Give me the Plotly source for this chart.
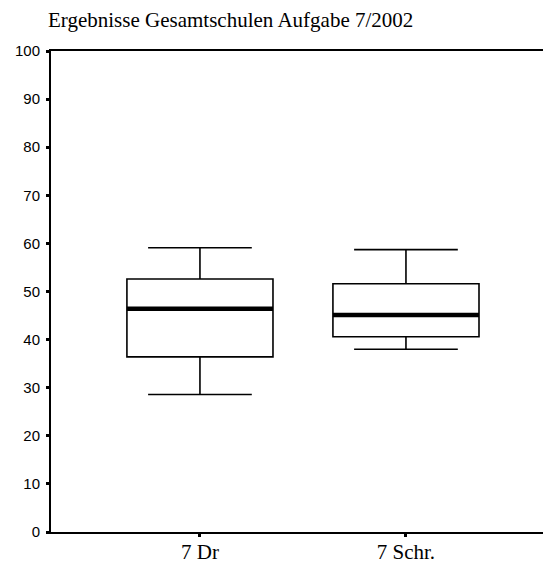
import plotly.graph_objects as go

categories = ["7 Dr", "7 Schr."]
lower_whisker = [28.6, 38.0]
q1 = [36.4, 40.6]
median = [46.4, 45.1]
q3 = [52.6, 51.6]
upper_whisker = [59.1, 58.7]
y_ticks = [0, 10, 20, 30, 40, 50, 60, 70, 80, 90, 100]

# page body has an 8px margin; figure is sized to fit the window
OFF = 8

fig = go.Figure()
fig.add_trace(go.Box(
    x=categories, q1=q1, median=median, q3=q3,
    lowerfence=lower_whisker, upperfence=upper_whisker,
    width=0.709, whiskerwidth=0.71,
    fillcolor="white", line=dict(color="black", width=1.6),
    boxpoints=False, hoverinfo="skip", showlegend=False,
))
# thick median line drawn as a zero-height box
fig.add_trace(go.Box(
    x=categories, q1=median, median=median, q3=median,
    lowerfence=median, upperfence=median,
    width=0.709, whiskerwidth=0,
    fillcolor="black", line=dict(color="black", width=4.5),
    boxpoints=False, hoverinfo="skip", showlegend=False,
))

W, H = 551 - OFF, 568 - OFF
fig.update_layout(
    width=W, height=H,
    margin=dict(l=51 - OFF, r=0, t=51 - OFF, b=36, pad=0),
    paper_bgcolor="white", plot_bgcolor="white",
    boxmode="overlay",
    showlegend=False,
    title=dict(
        text="Ergebnisse Gesamtschulen Aufgabe 7/2002",
        font=dict(family="Liberation Serif, Times New Roman, serif", size=21, color="black"),
        x=(48 - OFF) / W, xanchor="left", xref="container",
        y=1 - (20 - OFF) / H, yanchor="middle", yref="container",
    ),
    xaxis=dict(
        type="category", categoryorder="array", categoryarray=categories,
        range=[-0.723, 1.704],
        showline=True, linecolor="black", linewidth=2, mirror=True,
        showgrid=False, zeroline=False,
        ticks="outside", ticklen=3, tickwidth=3, tickcolor="black",
        ticklabelstandoff=-3,
        tickfont=dict(family="Liberation Serif, Times New Roman, serif", size=21, color="black"),
    ),
    yaxis=dict(
        range=[0, 100], tickvals=y_ticks,
        showline=True, linecolor="black", linewidth=2,
        showgrid=False, zeroline=False,
        ticks="outside", ticklen=3, tickwidth=3, tickcolor="black",
        ticklabelstandoff=3,
        tickfont=dict(family="Liberation Sans, Arial, sans-serif", size=15, color="black"),
    ),
)

fig.write_html("out.html")
